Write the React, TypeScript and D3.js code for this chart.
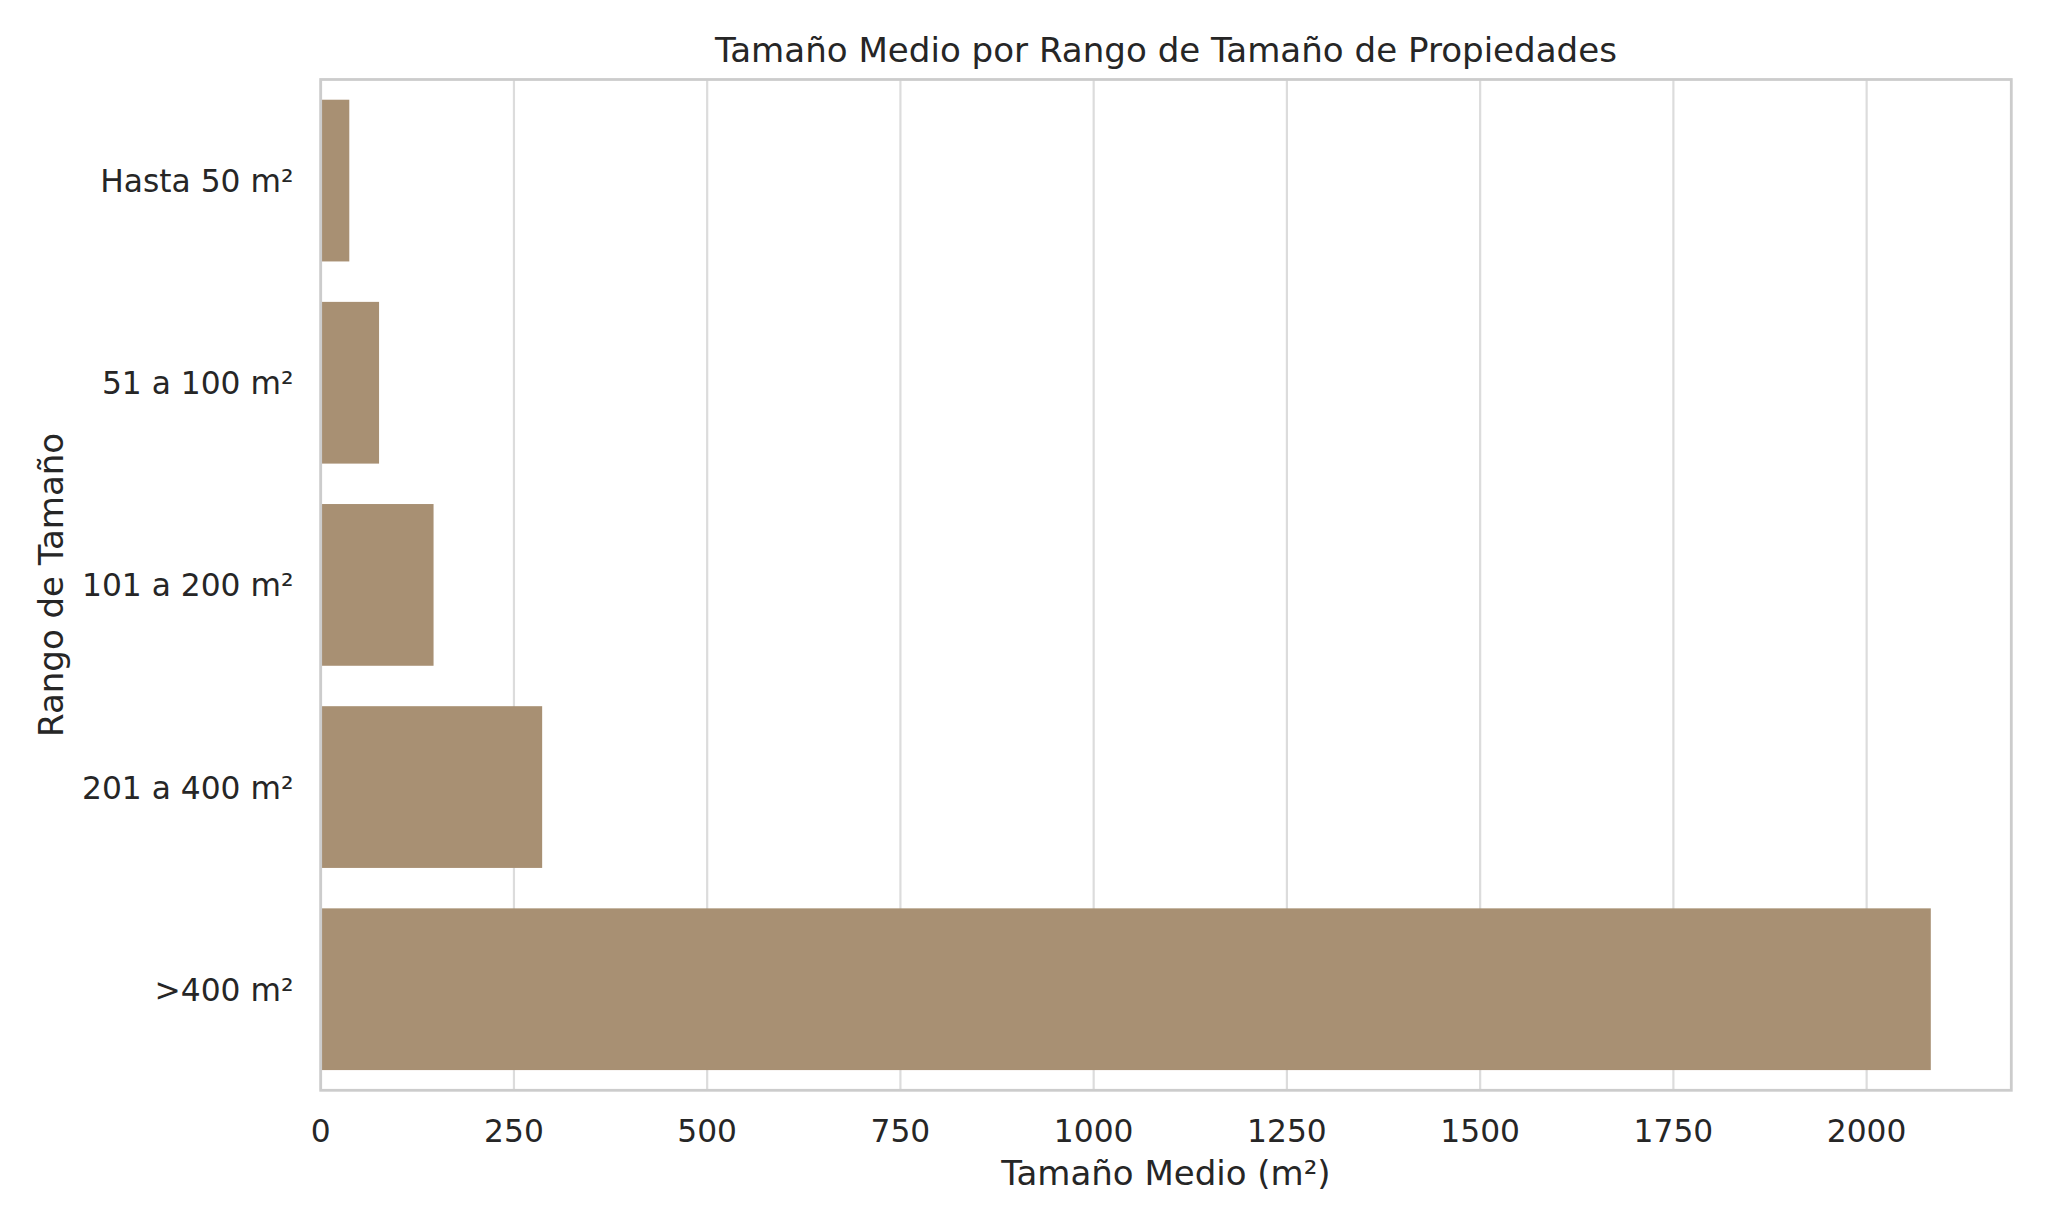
import React, { useEffect, useRef } from 'react';
import * as d3 from 'd3';

const categories = ['Hasta 50 m²', '51 a 100 m²', '101 a 200 m²', '201 a 400 m²', '>400 m²'];
const meanSizes = [37, 75.5, 146, 286.5, 2083];
const xTicks = [0, 250, 500, 750, 1000, 1250, 1500, 1750, 2000];

const WIDTH = 2048;
const HEIGHT = 1229;
const TEXT = '#262626';
const FONT = '"DejaVu Sans", sans-serif';

const App: React.FC = () => {
  const svgRef = useRef<SVGSVGElement>(null);

  useEffect(() => {
    if (!svgRef.current) return;
    const svg = d3.select(svgRef.current);
    svg.selectAll('*').remove();

    const left = 320.7;
    const right = 2011.3;
    const top = 79.5;
    const bottom = 1090.3;

    // matplotlib-like 5% margin on the value axis
    const x = d3.scaleLinear()
      .domain([0, d3.max(meanSizes)! * 1.05])
      .range([left, right]);

    const y = d3.scaleBand<string>()
      .domain(categories)
      .range([top, bottom])
      .paddingInner(0.2)
      .paddingOuter(0.1);

    svg.append('rect')
      .attr('width', WIDTH)
      .attr('height', HEIGHT)
      .attr('fill', '#ffffff');

    // vertical grid lines
    svg.append('g')
      .selectAll('line')
      .data(xTicks)
      .enter()
      .append('line')
      .attr('x1', d => x(d))
      .attr('x2', d => x(d))
      .attr('y1', top)
      .attr('y2', bottom)
      .attr('stroke', '#dcdcdc')
      .attr('stroke-width', 2.2);

    // bars
    svg.append('g')
      .selectAll('rect')
      .data(categories)
      .enter()
      .append('rect')
      .attr('x', x(0))
      .attr('y', d => y(d)!)
      .attr('width', (d, i) => x(meanSizes[i]) - x(0))
      .attr('height', y.bandwidth())
      .attr('fill', '#a89073');

    // frame
    svg.append('rect')
      .attr('x', left)
      .attr('y', top)
      .attr('width', right - left)
      .attr('height', bottom - top)
      .attr('fill', 'none')
      .attr('stroke', '#cccccc')
      .attr('stroke-width', 2.8);

    // x tick labels
    svg.append('g')
      .selectAll('text')
      .data(xTicks)
      .enter()
      .append('text')
      .attr('x', d => x(d))
      .attr('y', 1141.5)
      .attr('text-anchor', 'middle')
      .attr('font-family', FONT)
      .attr('font-size', 31.3)
      .attr('fill', TEXT)
      .text(d => String(d));

    // y tick labels
    svg.append('g')
      .selectAll('text')
      .data(categories)
      .enter()
      .append('text')
      .attr('x', 293.5)
      .attr('y', d => y(d)! + y.bandwidth() / 2 + 11.5)
      .attr('text-anchor', 'end')
      .attr('font-family', FONT)
      .attr('font-size', 31.3)
      .attr('fill', TEXT)
      .text(d => d);

    // title
    svg.append('text')
      .attr('x', (left + right) / 2)
      .attr('y', 62.3)
      .attr('text-anchor', 'middle')
      .attr('font-family', FONT)
      .attr('font-size', 34.1)
      .attr('fill', TEXT)
      .text('Tamaño Medio por Rango de Tamaño de Propiedades');

    // x axis label
    svg.append('text')
      .attr('x', (left + right) / 2)
      .attr('y', 1185)
      .attr('text-anchor', 'middle')
      .attr('font-family', FONT)
      .attr('font-size', 34)
      .attr('fill', TEXT)
      .text('Tamaño Medio (m²)');

    // y axis label
    svg.append('text')
      .attr('transform', `translate(62.5,${(top + bottom) / 2}) rotate(-90)`)
      .attr('text-anchor', 'middle')
      .attr('font-family', FONT)
      .attr('font-size', 34)
      .attr('fill', TEXT)
      .text('Rango de Tamaño');
  }, []);

  return (
    <svg
      ref={svgRef}
      width={WIDTH}
      height={HEIGHT}
      style={{ position: 'absolute', left: 0, top: 0, display: 'block' }}
    />
  );
};

export default App;
